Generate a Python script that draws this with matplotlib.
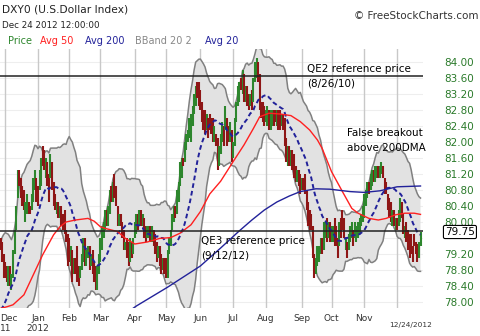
import numpy as np
import pandas as pd
import matplotlib
matplotlib.use('Agg')
import matplotlib.pyplot as plt
from matplotlib.transforms import blended_transform_factory, offset_copy

# trading days of the DXY futures, lead-in from late Oct 2011 for the 20 day band
holidays = ['2011-11-24', '2011-12-26', '2012-01-02', '2012-01-16', '2012-02-20',
            '2012-04-06', '2012-05-28', '2012-07-04', '2012-09-03', '2012-10-29',
            '2012-10-30', '2012-11-22']
days = pd.bdate_range('2011-10-28', '2012-12-24')
days = days[~days.isin(pd.to_datetime(holidays))]

opens = [75.9, 76.3,  # Oct 2011
         77.6, 77.3, 76.9, 76.6, 76.5, 76.8, 77.0, 77.9, 77.6, 77.3, 77.6, 77.8, 78.2, 78.1, 78.0, 78.4, 78.3, 79.0, 79.6, 79.5, 79.2,  # Nov
         79.0, 78.9, 78.4, 78.9, 78.3, 78.6, 79.2, 79.8, 80.6, 81.3, 81.1, 80.9, 80.8, 80.0, 80.2, 80.5, 80.4, 80.3, 80.5, 80.8, 81.1,  # Dec
         80.9, 80.8, 80.9, 81.9, 81.8, 81.1, 81.5, 81.2, 81.1, 81.5, 81.0, 80.7, 80.2, 80.5, 80.1, 80.4, 80.2, 80.3, 79.8, 79.7,  # Jan 2012
         79.6, 78.9, 79.3, 78.7, 79.1, 79.4, 78.9, 78.6, 78.8, 79.0, 79.6, 78.9, 79.1, 79.4, 78.9, 79.3, 79.0, 78.9, 78.3, 78.7,  # Feb
         79.0, 79.3, 79.6, 79.8, 80.3, 79.9, 80.2, 80.9, 80.5, 81.2, 80.9, 80.4, 79.9, 80.2, 80.0, 79.8, 79.3, 79.6, 79.5, 79.0, 79.5, 79.2,  # Mar
         79.6, 79.7, 80.2, 79.9, 80.3, 79.9, 80.1, 79.9, 79.6, 79.6, 79.9, 79.5, 79.8, 79.7, 79.5, 79.1, 79.4, 79.2, 78.8, 79.1,  # Apr
         79.1, 78.6, 79.2, 79.4, 79.8, 80.0, 80.4, 80.2, 80.5, 80.9, 81.1, 81.6, 81.5, 81.8, 82.0, 82.1, 82.0, 82.4, 82.7, 82.9, 83.5, 83.5,  # May
         83.3, 83.0, 82.8, 82.8, 82.3, 82.6, 82.7, 82.6, 82.6, 82.0, 82.2, 82.1, 81.4, 81.7, 82.0, 82.4, 82.3, 82.6, 82.4, 82.0, 82.3,  # Jun
         81.6, 81.9, 82.5, 82.9, 83.0, 83.6, 83.2, 83.7, 83.0, 83.4, 83.2, 82.9, 83.3, 83.0, 83.5, 83.6, 84.0, 83.7, 83.0, 83.0, 82.9,  # Jul
         82.5, 82.4, 82.8, 82.3, 82.4, 82.8, 82.8, 82.4, 82.8, 82.8, 82.4, 82.7, 82.6, 82.1, 81.4, 81.9, 81.4, 81.8, 81.7, 81.4, 81.0, 81.3, 81.2,  # Aug
         80.8, 81.1, 81.2, 80.8, 80.5, 80.3, 80.2, 79.9, 79.2, 78.7, 78.9, 79.0, 79.2, 79.6, 79.3, 79.6, 80.1, 79.6, 80.0,  # Sep
         79.5, 79.5, 80.1, 79.9, 79.6, 79.4, 80.1, 80.3, 80.1, 79.3, 79.5, 79.3, 79.5, 79.6, 79.8, 79.6, 79.5, 79.6, 79.7, 79.9, 80.0,  # Oct
         80.1, 80.4, 80.6, 81.0, 80.8, 80.9, 81.3, 81.0, 81.1, 81.4, 81.1, 81.2, 81.4, 81.1, 81.0, 80.7, 80.6, 80.5, 79.9, 80.3, 79.8,  # Nov
         80.1, 79.9, 80.0, 80.5, 80.2, 79.6, 80.0, 79.8, 79.7, 79.7, 79.4, 79.7, 79.5, 79.45, 79.1, 79.4]  # Dec
closes = [76.3, 77.2,
          77.3, 76.9, 76.6, 76.5, 76.8, 76.9, 77.9, 77.6, 77.3, 77.6, 77.8, 78.2, 78.1, 77.9, 78.4, 78.3, 79.0, 79.6, 79.3, 79.0, 78.6,
          78.6, 78.5, 78.9, 78.4, 78.7, 79.3, 79.8, 80.4, 81.3, 80.9, 80.6, 80.4, 80.3, 80.5, 80.7, 80.2, 80.2, 80.7, 81.1, 81.3, 80.5,
          80.4, 81.3, 81.6, 81.4, 81.3, 81.6, 80.9, 80.5, 81.7, 80.8, 80.4, 80.3, 80.5, 80.1, 80.4, 79.9, 79.8, 79.7, 79.5, 78.9,
          79.0, 79.4, 78.5, 79.1, 78.7, 78.5, 78.4, 78.9, 79.2, 79.6, 78.9, 79.3, 79.4, 78.8, 79.2, 78.7, 78.5, 78.3, 78.9, 79.2,
          79.6, 79.9, 80.0, 80.3, 79.9, 80.4, 80.8, 80.5, 81.0, 80.6, 80.4, 79.9, 80.2, 79.9, 79.6, 79.3, 79.5, 79.1, 78.9, 79.6, 79.1, 79.6,
          80.0, 80.2, 79.8, 80.3, 79.9, 80.2, 79.6, 79.5, 79.9, 79.9, 79.5, 79.9, 79.4, 79.2, 79.0, 79.4, 78.9, 78.7, 79.1, 78.7,
          78.6, 79.3, 79.6, 79.8, 80.2, 80.4, 80.1, 80.8, 81.0, 81.5, 81.6, 81.4, 82.0, 82.2, 82.3, 82.6, 82.7, 82.9, 83.2, 83.4, 83.1, 82.9,
          82.8, 82.5, 82.3, 82.2, 82.7, 82.1, 82.3, 82.2, 82.0, 82.4, 81.9, 81.3, 81.9, 82.2, 82.5, 81.9, 82.9, 81.9, 82.0, 82.5, 81.5,
          82.0, 82.6, 83.0, 83.4, 83.5, 83.3, 83.8, 83.0, 83.4, 82.9, 82.8, 83.2, 82.8, 83.6, 84.0, 84.1, 83.5, 82.8, 82.6, 82.5, 82.4,
          82.8, 82.9, 82.3, 82.8, 82.8, 82.4, 82.5, 82.8, 82.3, 82.3, 82.7, 82.3, 81.9, 81.5, 81.9, 81.4, 81.8, 81.3, 81.1, 81.0, 81.3, 80.9, 80.7,
          81.1, 80.8, 80.7, 80.3, 79.9, 79.8, 79.8, 79.1, 78.6, 79.1, 79.4, 79.4, 79.6, 79.2, 80.0, 80.0, 79.5, 80.0, 79.5,
          79.9, 79.9, 79.4, 79.4, 79.1, 80.0, 79.6, 79.8, 79.6, 79.6, 79.1, 79.7, 79.9, 80.0, 79.4, 80.0, 79.9, 80.0, 80.1, 80.2, 80.4,
          80.7, 80.8, 81.0, 80.7, 81.2, 81.3, 81.0, 81.4, 81.4, 81.1, 81.4, 81.5, 81.1, 80.7, 80.7, 80.3, 80.1, 80.0, 80.3, 79.9, 80.1,
          79.8, 80.3, 80.6, 80.1, 79.7, 79.9, 79.5, 79.3, 79.1, 79.2, 79.0, 79.4, 79.2, 79.0, 79.5, 79.75]

# 50 and 200 day averages (trading day number, value), day 0 = Dec 1 2011
ma50_day = [-4, 1, 5, 12, 18, 24, 31, 35, 39, 45, 53, 57, 61, 65, 72, 77, 83, 91, 99, 106,
            112, 119, 125, 131, 138, 146, 153, 159, 163, 169, 176, 183, 189, 195, 200, 203, 209, 216, 222, 226,
            233, 239, 244, 250, 256, 262, 266]
ma50_val = [77.83, 77.88, 77.93, 78.18, 78.68, 79.18, 79.68, 79.88, 80.0, 80.05, 80.09, 80.02, 79.88, 79.83, 79.76, 79.59, 79.45, 79.5, 79.59, 79.61,
            79.72, 79.93, 80.26, 80.7, 81.02, 81.51, 81.93, 82.34, 82.63, 82.72, 82.7, 82.66, 82.51, 82.3, 82.05, 81.84, 81.26, 80.76, 80.34, 80.22,
            80.09, 80.05, 80.09, 80.18, 80.22, 80.22, 80.19]
ma200_day = [80, 84, 104, 125, 138, 150, 158, 166, 174, 182, 189, 199, 208, 221, 230, 240, 251, 266]
ma200_val = [77.79, 77.9, 78.37, 78.9, 79.35, 79.78, 80.05, 80.3, 80.5, 80.65, 80.76, 80.83, 80.82, 80.76, 80.74, 80.78, 80.88, 80.9]

qe2_price = 83.65
qe3_price = 79.78
last_price = 79.75
price_ticks = [84.0, 83.6, 83.2, 82.8, 82.4, 82.0, 81.6, 81.2, 80.8, 80.4, 80.0, 79.2, 78.8, 78.4, 78.0]
month_labels = ['Dec\n11', 'Jan\n2012', 'Feb', 'Mar', 'Apr', 'May', 'Jun', 'Jul', 'Aug', 'Sep', 'Oct', 'Nov']

assert len(opens) == len(closes) == len(days)

GREEN = '#2d862d'
RED = '#8e1616'
NAVY = '#22229a'

day0 = days.get_loc(pd.Timestamp('2011-12-01'))
x = np.arange(len(days)) - day0
o = np.array(opens)
c = np.array(closes)

s = pd.Series(closes)
mid = s.rolling(20).mean()
sd = s.rolling(20).std(ddof=0)
upper = mid + 2 * sd
lower = mid - 2 * sd
ok = mid.notna().values

# first trading day of each month from Dec 2011
shown = days[day0:]
firsts = pd.Series(np.arange(len(shown)), index=shown).groupby([shown.year, shown.month]).first().values

fig = plt.figure(figsize=(4.8, 3.36), dpi=100)
ax = fig.add_axes([0, 1 - 308 / 336, 423 / 480, 259 / 336])
ax.set_xlim(-3.33, 267.6)
ax.set_ylim(77.85, 84.325)
for sp in ax.spines.values():
    sp.set_visible(False)

for t in np.arange(78.0, 84.01, 0.4):
    ax.axhline(t, color='#eeeeee', lw=0.8, zorder=0)
for m in firsts:
    ax.axvline(m, color='#c8c8c8', lw=1.0, zorder=0)

ax.fill_between(x[ok], lower[ok], upper[ok], color='#e2e2e2', lw=0, zorder=1)
ax.plot(x[ok], upper[ok], color='#808080', lw=1.1, zorder=2)
ax.plot(x[ok], lower[ok], color='#808080', lw=1.1, zorder=2)

cols = np.where(c >= o, GREEN, RED)
ax.vlines(x, o, c, colors=cols, lw=1.5, zorder=3)

ax.plot(x[ok], mid[ok], color=NAVY, lw=1.4, ls=(0, (2.4, 1.6)), zorder=4)
ax.plot(ma50_day, ma50_val, color='#ff2020', lw=1.0, zorder=4)
ax.plot(ma200_day, ma200_val, color=NAVY, lw=1.0, zorder=4)

ax.axhline(qe2_price, color='#222222', lw=1.1, zorder=5)
ax.axhline(qe3_price, color='#222222', lw=1.1, zorder=5)

ax.text(193.3, 83.83, 'QE2 reference price', fontsize=7.5, va='center', zorder=6)
ax.text(193.3, 83.45, '(8/26/10)', fontsize=7.5, va='center', zorder=6)
ax.text(219, 82.23, 'False breakout', fontsize=7.5, va='center', zorder=6)
ax.text(219, 81.85, 'above 200DMA', fontsize=7.5, va='center', zorder=6)
ax.text(125.4, 79.53, 'QE3 reference price', fontsize=7.5, va='center', zorder=6)
ax.text(125.4, 79.15, '(9/12/12)', fontsize=7.5, va='center', zorder=6)

ax.yaxis.tick_right()
ax.set_yticks(price_ticks)
ax.set_yticklabels(['%.2f' % v for v in price_ticks])
ax.tick_params(axis='y', length=0, pad=15, labelsize=7.5, labelcolor='#2a7a2a')
ax.set_xticks(firsts[:len(month_labels)])
ax.set_xticklabels(month_labels)
ax.tick_params(axis='x', length=0, pad=4, labelsize=6.5, labelcolor='#333333')
first_lab = ax.get_xticklabels()[0]
first_lab.set_horizontalalignment('left')
first_lab.set_transform(offset_copy(first_lab.get_transform(), fig=fig, x=-5, units='dots'))

tr = blended_transform_factory(ax.transAxes, ax.transData)
ax.text(1.052, last_price, '%.2f' % last_price, transform=tr, fontsize=7.5, va='center', ha='left',
        bbox=dict(boxstyle='round,pad=0.15', fc='white', ec='black', lw=0.8))

fig.text(2 / 480, 1 - 10 / 336, 'DXY0 (U.S.Dollar Index)', fontsize=7.7, va='center', color='#222222')
fig.text(2 / 480, 1 - 25 / 336, 'Dec 24 2012 12:00:00', fontsize=6.3, va='center', color='#222222')
fig.text(478 / 480, 1 - 16 / 336, '\u00a9 FreeStockCharts.com', fontsize=7.5, va='center', ha='right', color='#333333')
legend_items = [('Price', GREEN, 8), ('Avg 50', '#ff2020', 40), ('Avg 200', NAVY, 85),
                ('BBand 20 2', '#888888', 135), ('Avg 20', NAVY, 205)]
for name, col, px in legend_items:
    fig.text(px / 480, 1 - 41 / 336, name, fontsize=7, va='center', color=col)
fig.text(411 / 480, 1 - 325 / 336, '12/24/2012', fontsize=5.3, va='center', ha='center', color='#333333')

fig.savefig('out.png', dpi=100)
